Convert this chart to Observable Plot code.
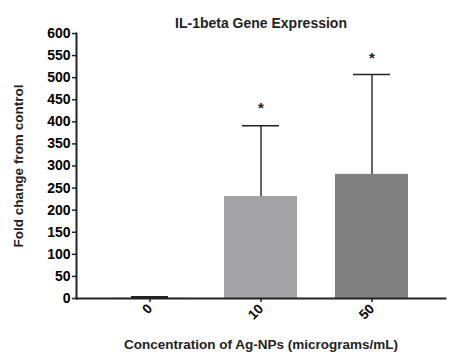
<!DOCTYPE html>
<html>
<head>
<meta charset="utf-8">
<script src="https://cdn.jsdelivr.net/npm/d3@7"></script>
<script src="https://cdn.jsdelivr.net/npm/@observablehq/plot@0.6"></script>
<style>
  body { margin: 0; background: #fff; }
  svg { font-family: "Liberation Sans", Arial, sans-serif; }
  g[aria-label$="axis label"] text { font-weight: bold; font-size: 13.5px; fill: #222; }
</style>
</head>
<body>
<div id="chart"></div>
<script>
const categories = ["0", "10", "50"];
const means = [1, 231, 281];
const errTops = [3, 391, 507];
const starY = [null, 430, 543];
const colors = ["#c8c8cc", "#a3a3a8", "#808080"];
const yTicks = [0, 50, 100, 150, 200, 250, 300, 350, 400, 450, 500, 550, 600];
const title = "IL-1beta Gene Expression";

const data = categories.map((c, i) => ({cat: c, mean: means[i], top: errTops[i], star: starY[i], color: colors[i]}));

const chart = Plot.plot({
  width: 451,
  height: 359,
  marginLeft: 76,
  marginRight: 6,
  marginTop: 33,
  marginBottom: 61,
  style: {fontFamily: "'Liberation Sans', Arial, sans-serif", background: "#fff"},
  x: {domain: categories, paddingInner: 0.34, paddingOuter: 0.332},
  y: {domain: [0, 600]},
  marks: [
    Plot.barY(data, {x: "cat", y: "mean", fill: "color"}),
    Plot.ruleX(data.filter(d => d.cat !== "0"), {x: "cat", y1: "mean", y2: "top", stroke: "#333", strokeWidth: 1.5}),
    Plot.tickY(data, {x: "cat", y: "top", stroke: "#222", strokeWidth: d => d.cat === "0" ? 2.5 : 1.5, insetLeft: 18, insetRight: 18}),
    Plot.text(data.filter(d => d.star != null), {x: "cat", y: "star", text: () => "*", fontSize: 15, fontWeight: "bold", fill: "#222"}),
    Plot.frame({anchor: "left", stroke: "#222", strokeWidth: 2}),
    Plot.frame({anchor: "bottom", stroke: "#222", strokeWidth: 2}),
    Plot.axisY({ticks: yTicks, tickSize: 4, tickPadding: 2, fontSize: 14, fontWeight: "bold", stroke: "#222", strokeWidth: 1.5, label: "Fold change from control", labelAnchor: "center", labelArrow: "none", labelOffset: 63}),
    Plot.axisX({tickSize: 4, tickRotate: -45, tickPadding: 4, fontSize: 13.5, fontWeight: "bold", stroke: "#222", strokeWidth: 1.5, label: "Concentration of Ag-NPs (micrograms/mL)", labelAnchor: "center", labelArrow: "none", labelOffset: 50}),
    Plot.text([title], {frameAnchor: "top", dy: -15, text: d => d, fontSize: 14, fontWeight: "bold", fill: "#222"})
  ]
});
document.getElementById("chart").appendChild(chart);
</script>
</body>
</html>
